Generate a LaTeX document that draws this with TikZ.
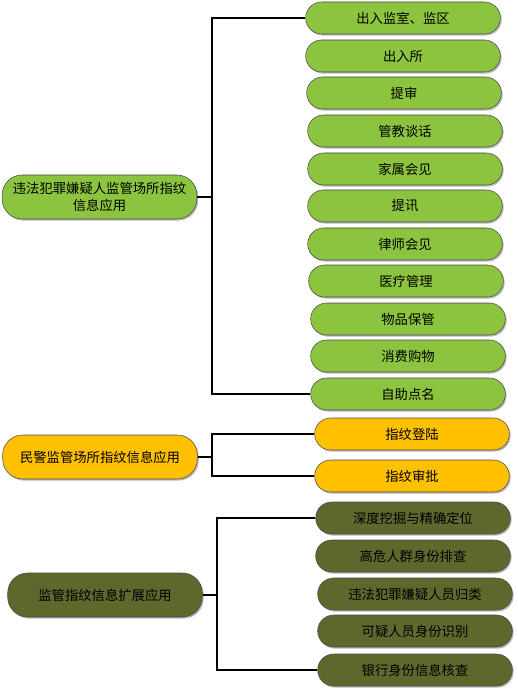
\documentclass[tikz,border=0pt]{standalone}
\usepackage{fontspec}
\newfontfamily\cjk{Noto Sans CJK SC}
\usepackage{tikz}
\usetikzlibrary{shadows}
\usepackage{xcolor}
\definecolor{leafgreen}{HTML}{8CC43F}
\definecolor{amber}{HTML}{FFC000}
\definecolor{darkolive}{HTML}{5E672C}
\definecolor{rim}{HTML}{4A4A4A}

\begin{document}
\begin{tikzpicture}[
  x=0.75pt, y=-0.75pt,
  every node/.style={font=\cjk\fontsize{10}{13}\selectfont, text=black},
  pill/.style={rectangle, rounded corners=12pt, draw=rim, thin, align=center,
    drop shadow={shadow xshift=1pt, shadow yshift=-1.2pt, fill=gray!55, opacity=1}},
  leaf/.style={pill, minimum width=146pt, minimum height=24pt, inner sep=1pt},
  root/.style={pill, minimum width=146pt, minimum height=33pt, inner sep=1pt, rounded corners=15pt},
  link/.style={draw=black, line width=1.2pt}
]
\useasboundingbox (0,0) rectangle (517,691);

% three parents on the left
\node[root, fill=leafgreen] (p1) at (99.5,197) {违法犯罪嫌疑人监管场所指纹\\信息应用};
\node[root, fill=amber] (p2) at (100,457) {民警监管场所指纹信息应用};
\node[root, fill=darkolive] (p3) at (105,595) {监管指纹信息扩展应用};

% branch points
\coordinate (b1) at (212,197);
\coordinate (b2) at (212,457);
\coordinate (b3) at (217,595);

% green children
\foreach \i/\x/\y/\txt in {1/403/18/出入监室、监区, 2/403/56/出入所, 3/404/93/提审,
  4/405/131/管教谈话, 5/405/169/家属会见, 6/405/206/提讯, 7/405/244/律师会见,
  8/406/281/医疗管理, 9/408/319/物品保管, 10/408/356/消费购物, 11/408/394/自助点名}
  \node[leaf, fill=leafgreen] (g\i) at (\x,\y) {\txt};

% orange children
\foreach \i/\x/\y/\txt in {1/412/434/指纹登陆, 2/412/476/指纹审批}
  \node[leaf, fill=amber] (o\i) at (\x,\y) {\txt};

% olive children
\foreach \i/\x/\y/\txt in {1/413/518/深度挖掘与精确定位, 2/413/556/高危人群身份排查,
  3/415/594/违法犯罪嫌疑人员归类, 4/415/631/可疑人员身份识别, 5/415/670/银行身份信息核查}
  \node[leaf, fill=darkolive] (v\i) at (\x,\y) {\txt};

% connectors
\draw[link] (p1.east) -- (b1);
\draw[link] (g1.west) -| (b1) |- (g11.west);
\draw[link] (p2.east) -- (b2);
\draw[link] (o1.west) -| (b2) |- (o2.west);
\draw[link] (p3.east) -- (b3);
\draw[link] (v1.west) -| (b3) |- (v5.west);

\end{tikzpicture}
\end{document}
